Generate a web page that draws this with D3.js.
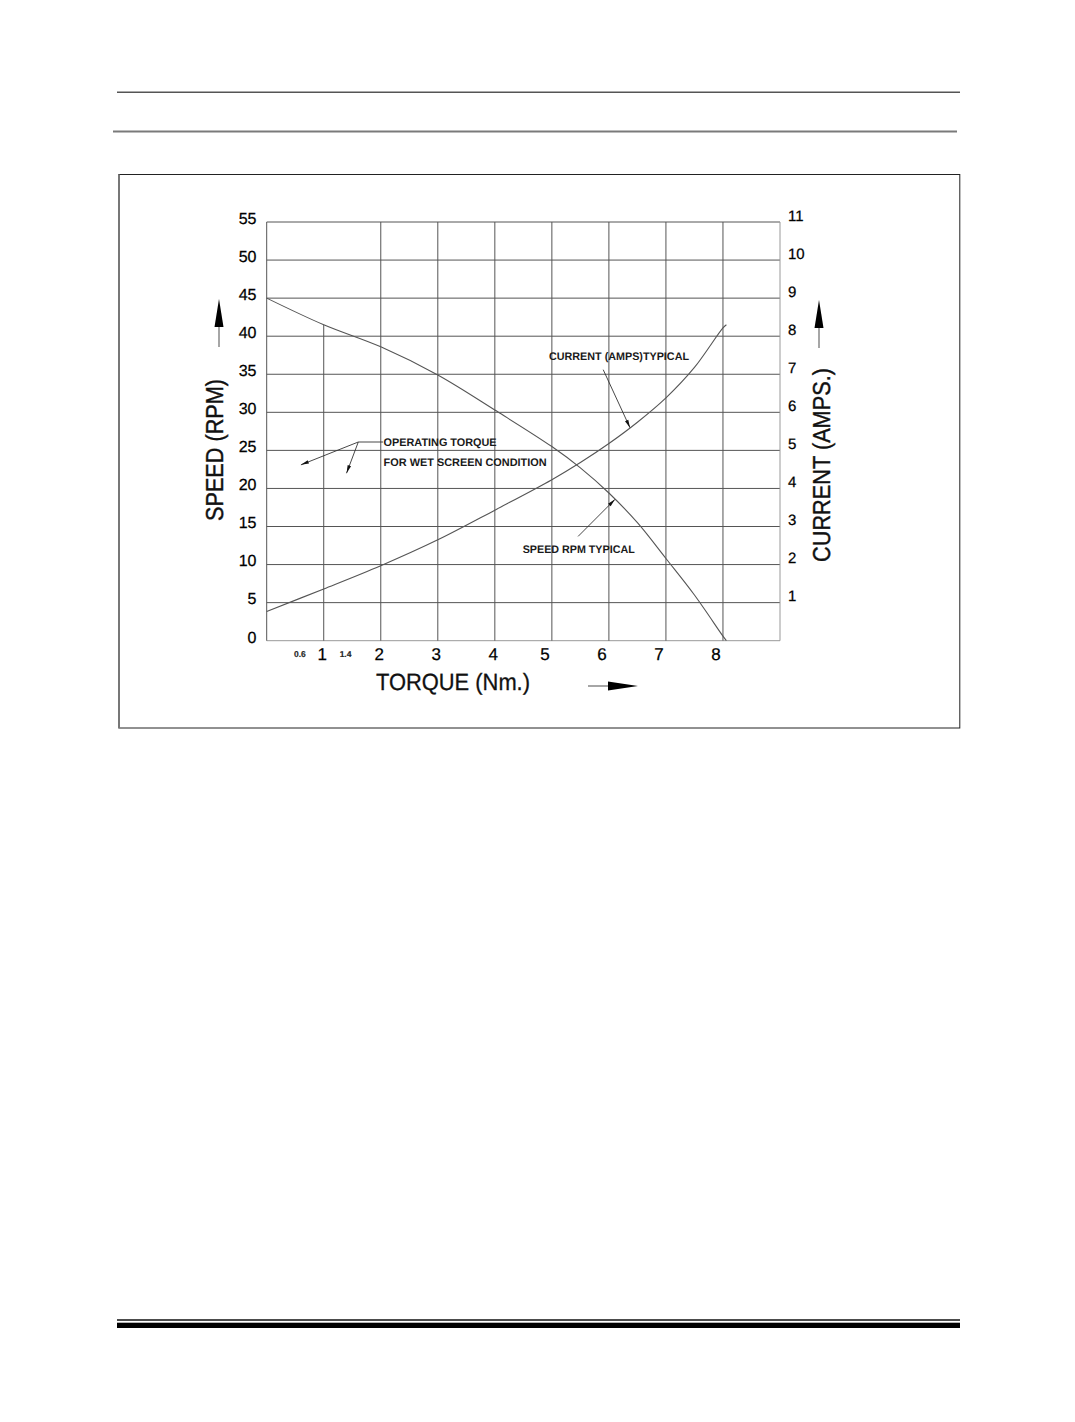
<!DOCTYPE html>
<html><head><meta charset="utf-8">
<script src="https://cdn.jsdelivr.net/npm/d3@7"></script>
<style>body{margin:0;background:#fff} text{text-rendering:geometricPrecision}</style>
</head><body>
<svg id="c" width="1075" height="1422"></svg>
<script>
// ---- data ----
const torque = [0, 1, 2, 3, 4, 5, 5.5, 6, 6.5, 7, 7.5, 8, 8.06];
const speedRPM = [45, 41.5, 38.6, 34.9, 30.3, 25.5, 22.7, 19.4, 15.5, 10.8, 6.0, 0.6, 0];
const currentAmps = [0.77, 1.36, 1.97, 2.65, 3.43, 4.23, 4.68, 5.18, 5.74, 6.38, 7.18, 8.22, 8.3];
const torqueTicks = [1, 2, 3, 4, 5, 6, 7, 8];
const torqueMinorLabels = [0.6, 1.4];
const speedTicks = [0, 5, 10, 15, 20, 25, 30, 35, 40, 45, 50, 55];
const currentTicks = [1, 2, 3, 4, 5, 6, 7, 8, 9, 10, 11];
const operatingTorque = [0.6, 1.4];

const svg = d3.select("#c");
const FONT = "'Liberation Sans', Arial, Helvetica, sans-serif";

// ---- page rules ----
const page = svg.append("g");
page.append("line").attr("x1",117).attr("x2",960).attr("y1",92.3).attr("y2",92.3).attr("stroke","#555").attr("stroke-width",1.5);
page.append("line").attr("x1",113).attr("x2",957).attr("y1",131.5).attr("y2",131.5).attr("stroke","#7a7a7a").attr("stroke-width",2.2);
page.append("line").attr("x1",117).attr("x2",960).attr("y1",1320).attr("y2",1320).attr("stroke","#111").attr("stroke-width",1.6);
page.append("rect").attr("x",117).attr("y",1322.7).attr("width",843).attr("height",5.3).attr("fill","#000");

// frame
page.append("rect").attr("x",118.8).attr("y",174.5).attr("width",841).attr("height",553.5)
  .attr("fill","none").attr("stroke","#222").attr("stroke-width",1);
page.append("line").attr("x1",119).attr("x2",119).attr("y1",174.5).attr("y2",728).attr("stroke","#777").attr("stroke-width",2);

// ---- scales ----
const x = d3.scaleLinear().domain([0, 9]).range([266.7, 780]);
const yS = d3.scaleLinear().domain([0, 55]).range([640.7, 222]);
const yC = d3.scaleLinear().domain([0, 11]).range([640.7, 222]);

const g = svg.append("g");
// horizontal grid
g.selectAll("line.h").data(speedTicks).join("line")
  .attr("x1", x(0)).attr("x2", x(9))
  .attr("y1", d => yS(d)).attr("y2", d => yS(d))
  .attr("stroke", d => d === 0 ? "#999" : "#555").attr("stroke-width", 1);
// vertical grid (torque 1 line starts at the speed curve)
const speedAt = d3.scaleLinear().domain(torque).range(speedRPM);
g.selectAll("line.v").data(torqueTicks).join("line")
  .attr("x1", d => x(d)).attr("x2", d => x(d))
  .attr("y1", d => d === 1 ? yS(speedAt(1)) : yS(55)).attr("y2", yS(0))
  .attr("stroke", "#555").attr("stroke-width", 1);
// plot edges
g.append("line").attr("x1",x(0)).attr("x2",x(0)).attr("y1",yS(55)).attr("y2",yS(0)).attr("stroke","#555");
g.append("line").attr("x1",x(9)).attr("x2",x(9)).attr("y1",yS(55)).attr("y2",yS(0)).attr("stroke","#999");

// ---- curves ----
const lineS = d3.line().x((d,i) => x(torque[i])).y(d => yS(d)).curve(d3.curveCatmullRom.alpha(0.5));
const lineC = d3.line().x((d,i) => x(torque[i])).y(d => yC(d)).curve(d3.curveCatmullRom.alpha(0.5));
g.append("path").attr("d", lineS(speedRPM)).attr("fill","none").attr("stroke","#555").attr("stroke-width",1.1);
g.append("path").attr("d", lineC(currentAmps)).attr("fill","none").attr("stroke","#555").attr("stroke-width",1.1);

// ---- tick labels ----
g.selectAll("text.ls").data(speedTicks).join("text")
  .attr("x", 256.5).attr("y", d => yS(d) + 1.8).attr("text-anchor","end")
  .attr("font-family",FONT).attr("font-size",16).attr("fill","#000").attr("stroke","#000").attr("stroke-width",0.25).text(d => d);
g.selectAll("text.rc").data(currentTicks).join("text")
  .attr("x", 788).attr("y", d => yC(d) - 1.5).attr("text-anchor","start")
  .attr("font-family",FONT).attr("font-size",15).attr("fill","#000").attr("stroke","#000").attr("stroke-width",0.25).text(d => d);
g.selectAll("text.xt").data(torqueTicks).join("text")
  .attr("x", d => x(d) - (d >= 5 ? 7 : 1.5)).attr("y", 660).attr("text-anchor","middle")
  .attr("font-family",FONT).attr("font-size",17).attr("fill","#000").attr("stroke","#000").attr("stroke-width",0.25).text(d => d);
g.selectAll("text.xm").data(torqueMinorLabels).join("text")
  .attr("x", d => x(d) - 1).attr("y", 657).attr("text-anchor","middle")
  .attr("font-family",FONT).attr("font-size",8.5).attr("font-weight","bold").attr("fill","#222")
  .attr("stroke","#222").attr("stroke-width",0.15).style("opacity",0.99).text(d => d);

// ---- axis titles ----
function vtitle(cx, cy, txt, fs, len){
  svg.append("text").attr("transform",`translate(${cx},${cy}) rotate(-90)`)
    .attr("text-anchor","middle").attr("dy", fs*0.36)
    .attr("font-family",FONT).attr("font-size",fs).attr("fill","#111").attr("stroke","#111").attr("stroke-width",0.4)
    .attr("textLength",len).attr("lengthAdjust","spacingAndGlyphs").text(txt);
}
vtitle(214.5, 450, "SPEED (RPM)", 24.5, 142);
vtitle(821, 465, "CURRENT (AMPS.)", 24.5, 194);
svg.append("text").attr("x",376).attr("y",690).attr("font-family",FONT).attr("font-size",23.5).attr("fill","#111")
  .attr("stroke","#111").attr("stroke-width",0.3)
  .attr("textLength",154).attr("lengthAdjust","spacingAndGlyphs").text("TORQUE (Nm.)");

// direction arrows
function upArrow(cx, tip){
  svg.append("line").attr("x1",cx).attr("x2",cx).attr("y1",tip+27).attr("y2",tip+48).attr("stroke","#888").attr("stroke-width",1.5);
  svg.append("path").attr("d",`M${cx},${tip} L${cx-4.5},${tip+28} L${cx+4.5},${tip+28} Z`).attr("fill","#000");
}
upArrow(219, 299);
upArrow(819, 300);
svg.append("line").attr("x1",588).attr("x2",609).attr("y1",686).attr("y2",686).attr("stroke","#888").attr("stroke-width",1.5);
svg.append("path").attr("d","M638,686 L608,681.5 L608,690.5 Z").attr("fill","#000");

// ---- annotations ----
const ann = svg.append("g");
function arrowTo(x1,y1,x2,y2){
  ann.append("line").attr("x1",x1).attr("y1",y1).attr("x2",x2).attr("y2",y2).attr("stroke","#333").attr("stroke-width",0.9);
  const a = Math.atan2(y2-y1, x2-x1), L = 8, W = 1.8;
  const bx = x2 - L*Math.cos(a), by = y2 - L*Math.sin(a);
  const px = -Math.sin(a)*W, py = Math.cos(a)*W;
  ann.append("path").attr("d",`M${x2},${y2} L${bx+px},${by+py} L${bx-px},${by-py} Z`).attr("fill","#111");
}
function label(xx, yy, txt, len){
  ann.append("text").attr("x",xx).attr("y",yy).attr("font-family",FONT).attr("font-size",11)
    .attr("font-weight","bold").attr("fill","#1a1a1a")
    .attr("textLength",len).attr("lengthAdjust","spacingAndGlyphs").text(txt);
}
// operating torque leader
const jx = x(1.606), jy = yS(26.1);
ann.append("line").attr("x1",jx).attr("x2",x(2.04)).attr("y1",jy).attr("y2",jy).attr("stroke","#333").attr("stroke-width",0.9);
arrowTo(jx, jy, x(operatingTorque[0]), yS(23.1));
arrowTo(jx, jy, x(operatingTorque[1]), yS(22.0));
label(x(2.05), yS(25.6)+0.5, "OPERATING TORQUE", 113);
label(x(2.05), yS(22.9), "FOR WET SCREEN CONDITION", 163);
// current leader
const currentAt = d3.scaleLinear().domain(torque).range(currentAmps);
arrowTo(x(5.9), yS(35.6), x(6.37), yC(currentAt(6.37)));
label(549, 360, "CURRENT (AMPS)TYPICAL", 140);
// speed leader
arrowTo(x(5.46), yS(13.7), x(6.107), yS(speedAt(6.107)));
label(522.7, 552.5, "SPEED RPM TYPICAL", 112);
</script>
</body></html>
